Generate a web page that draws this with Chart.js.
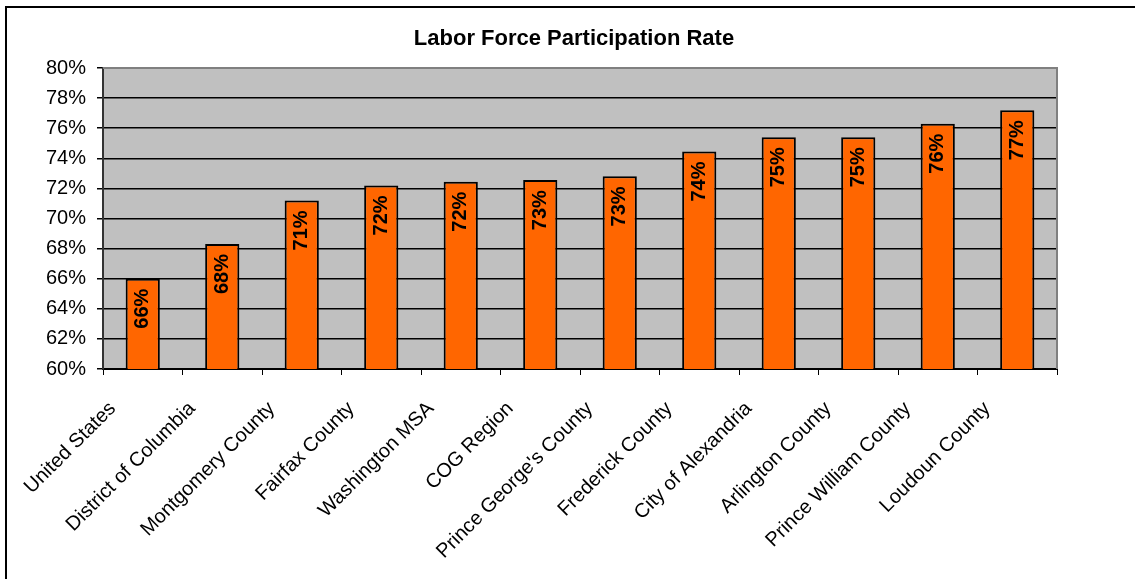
<!DOCTYPE html>
<html>
<head>
<meta charset="utf-8">
<script src="https://cdn.jsdelivr.net/npm/chart.js@4/dist/chart.umd.min.js"></script>
<style>
  html, body { margin: 0; padding: 0; background: #fff; }
  #wrap { position: relative; width: 1135px; height: 579px; overflow: hidden; }
  #frame { position: absolute; left: 5px; top: 6px; width: 1200px; height: 700px; border: 2px solid #000; box-sizing: border-box; }
  canvas { position: absolute; left: 0; top: 0; }
</style>
</head>
<body>
<div id="wrap">
  <div id="frame"></div>
  <canvas id="bars" width="1135" height="579"></canvas>
</div>
<script>
const chartTitle = "Labor Force Participation Rate";
const areas = [
  "United States", "District of Columbia", "Montgomery County", "Fairfax County",
  "Washington MSA", "COG Region", "Prince George's County", "Frederick County",
  "City of Alexandria", "Arlington County", "Prince William County", "Loudoun County"
];
const participation = [66.0, 68.3, 71.2, 72.2, 72.45, 72.55, 72.8, 74.45, 75.4, 75.4, 76.3, 77.2];
const pctLabels = ["66%", "68%", "71%", "72%", "72%", "73%", "73%", "74%", "75%", "75%", "76%", "77%"];
const yTicks = [60, 62, 64, 66, 68, 70, 72, 74, 76, 78, 80];

const fontFamily = "'Liberation Sans', Arial, sans-serif";

// gray plot background, gray outline on top / right, and the title over the plot
const plotArea = {
  id: "plotArea",
  beforeDraw(chart) {
    const { ctx, chartArea: a } = chart;
    ctx.save();
    ctx.fillStyle = "#C0C0C0";
    ctx.fillRect(a.left, a.top, a.right - a.left, a.bottom - a.top);
    ctx.restore();
  },
  afterDatasetsDraw(chart) {
    const { ctx, chartArea: a } = chart;
    ctx.save();
    ctx.strokeStyle = "#808080";
    ctx.lineWidth = 2;
    ctx.beginPath();
    ctx.moveTo(a.left, a.top);
    ctx.lineTo(a.right, a.top);
    ctx.lineTo(a.right, a.bottom);
    ctx.stroke();

    ctx.font = "bold 22px " + fontFamily;
    ctx.fillStyle = "#000";
    ctx.textAlign = "center";
    ctx.textBaseline = "middle";
    ctx.fillText(chartTitle, (a.left + a.right) / 2 - 6, a.top - 29);
    ctx.restore();
  }
};

// rotated value labels inside the top of each bar
const barLabels = {
  id: "barLabels",
  afterDatasetsDraw(chart) {
    const { ctx } = chart;
    const meta = chart.getDatasetMeta(0);
    ctx.save();
    ctx.font = "bold 20px " + fontFamily;
    ctx.fillStyle = "#000";
    ctx.textAlign = "right";
    ctx.textBaseline = "middle";
    meta.data.forEach((bar, i) => {
      ctx.save();
      ctx.translate(bar.x, bar.y + 10);
      ctx.rotate(-Math.PI / 2);
      ctx.fillText(pctLabels[i], 0, 0);
      ctx.restore();
    });
    ctx.restore();
  }
};

new Chart(document.querySelector("#bars"), {
  type: "bar",
  data: {
    labels: areas,
    datasets: [
      {
        data: participation,
        backgroundColor: "#FF6600",
        borderColor: "#000",
        borderWidth: 2,
        barPercentage: 0.43,
        categoryPercentage: 1
      }
    ]
  },
  options: {
    responsive: false,
    animation: false,
    layout: { padding: { top: 68, left: 0, right: 78, bottom: 0 } },
    plugins: {
      legend: { display: false },
      tooltip: { enabled: false },
      title: { display: false }
    },
    scales: {
      x: {
        afterFit(scale) { scale.height = 210; },
        grid: {
          offset: true,
          drawOnChartArea: false,
          drawTicks: true,
          tickLength: 6,
          color: "#000"
        },
        border: { color: "#000", width: 2 },
        ticks: {
          color: "#000",
          font: { family: fontFamily, size: 20 },
          minRotation: 45,
          maxRotation: 45,
          autoSkip: false,
          padding: 22,
          labelOffset: -30
        }
      },
      y: {
        min: 60,
        max: 80,
        afterFit(scale) { scale.width = 103; },
        afterBuildTicks(scale) { scale.ticks = yTicks.map(v => ({ value: v })); },
        grid: {
          color: ctx => (ctx.tick && ctx.tick.value === 80 ? "rgba(0,0,0,0)" : "#000"),
          tickColor: "#000",
          tickLength: 6,
          lineWidth: 1.5
        },
        border: { color: "#333", width: 2 },
        ticks: {
          color: "#000",
          font: { family: fontFamily, size: 20 },
          padding: 11,
          callback: v => v + "%"
        }
      }
    }
  },
  plugins: [plotArea, barLabels]
});
</script>
</body>
</html>
